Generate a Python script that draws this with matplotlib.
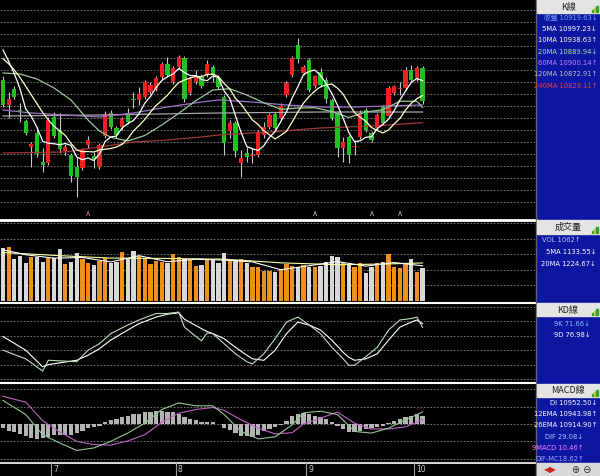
import matplotlib
matplotlib.use('Agg')
import matplotlib.pyplot as plt
from matplotlib import font_manager
from matplotlib.patches import Rectangle

# daily candles, 75 trading days (end of June .. start of October)
opens = [11000, 10900, 10964, 10880, 10836, 10732, 10788, 10672, 10668, 10852,
         10796, 10716, 10700, 10652, 10648, 10740, 10696, 10652, 10776, 10868,
         10808, 10812, 10868, 10924, 10920, 10932, 10952, 10964, 11012, 11064,
         10992, 11052, 11088, 10948, 10992, 11012, 11020, 11052, 11008, 10932,
         10796, 10828, 10668, 10708, 10696, 10700, 10780, 10812, 10864, 10848,
         10940, 11020, 11140, 11028, 11080, 10976, 11032, 11000, 10920, 10868,
         10728, 10772, 10732, 10772, 10880, 10788, 10808, 10892, 10856, 10948,
         10964, 10968, 11040, 11004, 11048]
highs = [11016, 10952, 10976, 10908, 10844, 10752, 10808, 10728, 10852, 10872,
         10868, 10744, 10708, 10692, 10728, 10776, 10712, 10748, 10876, 10880,
         10816, 10852, 10888, 10952, 10972, 11000, 10992, 11016, 11072, 11092,
         11056, 11100, 11096, 11012, 11040, 11024, 11080, 11060, 11020, 10940,
         10840, 10836, 10720, 10732, 10728, 10800, 10832, 10868, 10872, 10908,
         10996, 11096, 11168, 11060, 11088, 11020, 11048, 11012, 10928, 10876,
         10772, 10780, 10760, 10880, 10888, 10796, 10868, 10900, 10976, 10980,
         10992, 11052, 11060, 11056, 11056]
lows = [10892, 10848, 10924, 10832, 10780, 10652, 10692, 10632, 10660, 10768,
        10708, 10700, 10592, 10532, 10640, 10728, 10648, 10644, 10768, 10804,
        10768, 10800, 10824, 10888, 10900, 10924, 10944, 10956, 11004, 11012,
        10984, 11044, 10912, 10940, 10984, 10968, 11012, 10992, 10964, 10700,
        10768, 10692, 10612, 10672, 10668, 10692, 10768, 10804, 10800, 10836,
        10932, 11012, 11068, 11020, 10952, 10968, 10972, 10908, 10840, 10692,
        10672, 10668, 10700, 10764, 10792, 10752, 10800, 10820, 10848, 10940,
        10940, 10960, 10992, 10996, 10904]
closes = [10900, 10924, 10932, 10876, 10788, 10744, 10704, 10660, 10840, 10776,
          10724, 10732, 10616, 10612, 10720, 10760, 10684, 10740, 10864, 10812,
          10780, 10844, 10832, 10920, 10944, 10992, 10980, 11008, 11064, 11020,
          11048, 11092, 10924, 11004, 11016, 10976, 11064, 11020, 10972, 10748,
          10828, 10716, 10688, 10692, 10700, 10792, 10812, 10860, 10808, 10896,
          10988, 11088, 11084, 11052, 10960, 11016, 10980, 10924, 10848, 10728,
          10752, 10700, 10736, 10868, 10800, 10760, 10860, 10828, 10968, 10976,
          10968, 11040, 11000, 11048, 10916]

ma5 = [11120, 11075, 11025, 10965, 10885, 10854, 10810, 10755, 10747, 10745,
       10741, 10746, 10738, 10692, 10681, 10688, 10678, 10703, 10754, 10772,
       10776, 10808, 10826, 10838, 10865, 10907, 10934, 10970, 10998, 11013,
       11024, 11046, 11030, 11018, 11017, 11002, 10997, 11016, 11010, 10956,
       10926, 10857, 10790, 10734, 10725, 10718, 10737, 10771, 10794, 10834,
       10873, 10928, 10973, 11022, 11034, 11040, 11018, 10986, 10946, 10899,
       10846, 10790, 10753, 10757, 10771, 10773, 10805, 10823, 10843, 10878,
       10920, 10956, 10990, 11006, 10997]
ma10 = [11085, 11065, 11040, 11010, 10975, 10940, 10905, 10870, 10840, 10815,
        10797, 10778, 10746, 10720, 10713, 10714, 10712, 10720, 10723, 10726,
        10732, 10743, 10765, 10796, 10818, 10842, 10871, 10898, 10918, 10939,
        10966, 10990, 11000, 11008, 11015, 11013, 11022, 11023, 11014, 10986,
        10964, 10927, 10903, 10872, 10840, 10822, 10797, 10781, 10764, 10779,
        10795, 10832, 10872, 10908, 10934, 10956, 10973, 10980, 10984, 10967,
        10943, 10904, 10870, 10851, 10835, 10810, 10798, 10788, 10800, 10825,
        10846, 10880, 10907, 10925, 10938]
ma20_idx = [0, 3, 6, 9, 12, 15, 17, 19, 22, 25, 28, 31, 34, 37, 40, 43, 46, 49,
            52, 55, 58, 61, 64, 67, 70, 73, 74]
ma20 = [11028, 11024, 11004, 10968, 10920, 10840, 10796, 10771, 10756, 10778,
        10820, 10867, 10917, 10960, 10965, 10940, 10909, 10883, 10888, 10889,
        10874, 10850, 10872, 10881, 10915, 10915, 10890]
ma60_idx = [0, 5, 11, 17, 23, 29, 35, 38, 44, 50, 56, 62, 68, 74]
ma60 = [10880, 10868, 10860, 10852, 10868, 10892, 10912, 10920, 10912, 10900,
        10892, 10892, 10896, 10900]
ma120_idx = [0, 17, 38, 56, 74]
ma120 = [10856, 10860, 10868, 10872, 10872]
ma240_idx = [0, 11, 17, 23, 29, 35, 38, 47, 56, 65, 74]
ma240 = [10708, 10712, 10732, 10752, 10760, 10772, 10780, 10792, 10808, 10816,
         10829]

volume = [1700, 1750, 1340, 1450, 1210, 1430, 1430, 1270, 1370, 1400,
          1670, 1190, 1270, 1540, 1340, 1230, 1160, 1290, 1400, 1210,
          1270, 1590, 1370, 1610, 1460, 1370, 1190, 1300, 1250, 1210,
          1510, 1410, 1340, 1320, 1140, 1160, 1340, 1340, 1210, 1540,
          1320, 1320, 1340, 1210, 1110, 1110, 970, 970, 950, 1030,
          1190, 1140, 1110, 1160, 1080, 1110, 1130, 1250, 1450, 1410,
          1230, 1180, 1110, 1210, 890, 1110, 1210, 1270, 1500, 1110,
          1050, 1180, 1340, 920, 1062]
vma5_idx = [0, 4, 9, 14, 19, 24, 29, 34, 39, 44, 49, 54, 59, 64, 69, 74]
vma5 = [1650, 1490, 1380, 1402, 1258, 1460, 1264, 1344, 1318, 1260, 1006, 1136,
        1270, 1124, 1240, 1134]
vma20_idx = [0, 10, 19, 29, 39, 49, 59, 67, 74]
vma20 = [1560, 1460, 1382, 1370, 1347, 1230, 1168, 1190, 1225]

kd_idx = [0, 4, 7, 8, 13, 15, 17, 19, 22, 24, 27, 29, 31, 32, 35, 36, 37, 39,
          41, 43, 44, 46, 48, 50, 52, 54, 56, 58, 60, 61, 62, 64, 66, 68, 70,
          72, 73, 74]
k_vals = [40, 28, 11, 26, 24, 40, 49, 63, 75, 82, 91, 91, 93, 72, 53, 64, 63,
          49, 35, 24, 21, 35, 56, 79, 86, 75, 63, 44, 28, 19, 19, 31, 44, 68,
          82, 84, 86, 71.66]
d_vals = [59, 40, 17, 20, 26, 33, 42, 54, 68, 77, 86, 90, 92, 83, 70, 66, 63,
          56, 44, 33, 28, 26, 40, 63, 79, 75, 68, 54, 37, 30, 26, 28, 35, 54,
          72, 79, 82, 76.98]

osc = [-10, -18, -20, -24, -30, -34, -36, -34, -31, -26, -27, -26, -27, -22,
       -18, -10, -8, -4, 4, 9, 12, 16, 19, 23, 25, 28, 29, 31, 31, 29, 28, 25,
       17, 13, 9, 6, 6, 4, 1, -10, -14, -22, -28, -30, -31, -26, -18, -12, -7,
       -2, 8, 19, 25, 27, 23, 20, 17, 12, 4, -6, -12, -19, -20, -16, -11, -10,
       -7, -4, 2, 8, 12, 17, 20, 24, 18.62]
macd_idx = [0, 4, 7, 10, 13, 16, 19, 22, 25, 28, 31, 34, 37, 39, 42, 45, 48,
            51, 53, 56, 59, 62, 65, 68, 71, 74]
dif = [57, 23, -26, -46, -64, -58, -42, -22, 2, 35, 51, 44, 44, 23, -18, -36,
       -31, -2, 27, 31, 23, -18, -22, -10, 10, 29.08]
macd9 = [67, 53, 8, -19, -42, -50, -51, -41, -26, 4, 26, 35, 40, 33, 10, -10,
         -24, -21, 0, 14, 29, 2, -12, -12, -7, 10.46]

months = ['7', '8', '9', '10']
month_start = [9, 31, 54, 73]
marks_idx = [15, 55, 65, 70]
marks_col = ['#d08080', '#c0c0c0', '#c0c0c0', '#c0c0c0']

W, H = 600, 476
N = len(closes)
xs = list(range(N))
GRID = dict(color='#8a8a8a', lw=0.6, ls=(0, (2, 2)))
installed = {f.name for f in font_manager.fontManager.ttflist}
narrow = 'Liberation Sans Narrow' if 'Liberation Sans Narrow' in installed else 'DejaVu Sans'
LBL = [narrow, 'DejaVu Sans', 'Noto Sans CJK TC']
FS = 5.8 if narrow != 'DejaVu Sans' else 4.9
CJK = ['Noto Sans CJK TC', 'DejaVu Sans']

fig = plt.figure(figsize=(6.0, 4.76), dpi=100, facecolor='black')


def px_axes(x0, y0, x1, y1, ylim):
    ax = fig.add_axes([x0 / W, 1 - y1 / H, (x1 - x0) / W, (y1 - y0) / H])
    ax.set_facecolor('black')
    for s in ax.spines.values():
        s.set_visible(False)
    ax.set_xticks([])
    ax.set_yticks([])
    ax.set_xlim(-0.53, 93.83)
    ax.set_ylim(*ylim)
    return ax


# price panel
ax = px_axes(0, 0, 535, 218, (10448, 11320))
for g in range(10512, 11300, 48):
    ax.axhline(g, **GRID)
for i in xs:
    up = closes[i] >= opens[i]
    col = '#f02020' if up else '#20c020'
    ax.vlines(i, lows[i], highs[i], color='#c8c8c8', lw=0.8, zorder=2)
    lo = min(opens[i], closes[i])
    ht = max(abs(closes[i] - opens[i]), 3)
    ax.bar(i, ht, bottom=lo, width=0.75, color=col, lw=0, zorder=3)
ax.plot(ma240_idx, ma240, color='#a03838', lw=0.9, zorder=4)
ax.plot(ma120_idx, ma120, color='#a8a8a8', lw=0.9, zorder=4)
ax.plot(ma60_idx, ma60, color='#a070c8', lw=0.9, zorder=4)
ax.plot(ma20_idx, ma20, color='#98c898', lw=0.9, zorder=4)
ax.plot(xs, ma10, color='#ffffc8', lw=0.9, zorder=4)
ax.plot(xs, ma5, color='#ffffff', lw=0.9, zorder=4)
for i, c in zip(marks_idx, marks_col):
    ax.text(i, 10466, '\u2227', color=c, fontsize=6, ha='center', va='center')

# volume panel
av = px_axes(0, 222, 535, 302, (-32, 2544))
for g in range(500, 2600, 500):
    av.axhline(g, **GRID)
vcol = ['#f0901c' if closes[i] >= opens[i] else '#d8d8d8' for i in xs]
av.bar(xs, volume, width=0.75, color=vcol, lw=0, zorder=3)
av.plot(vma20_idx, vma20, color='#ffffa0', lw=0.8, zorder=4)
av.plot(vma5_idx, vma5, color='#ffffff', lw=0.8, zorder=4)

# KD panel
ak = px_axes(0, 304, 535, 381, (-2.8, 104.2))
for g in range(0, 101, 20):
    ak.axhline(g, **GRID)
ak.plot(kd_idx, d_vals, color='#ffffff', lw=0.8)
ak.plot(kd_idx, k_vals, color='#b8e0b8', lw=0.8)

# MACD panel
am = px_axes(0, 384, 535, 462, (-92, 96.8))
for g in (-84, -42, 0, 42, 84):
    am.axhline(g, **GRID)
am.bar(xs, osc, width=0.75, color='#b4b4b4', lw=0, zorder=3)
am.plot(macd_idx, macd9, color='#c060c0', lw=0.8, zorder=4)
am.plot(macd_idx, dif, color='#90c890', lw=0.8, zorder=4)

# overlay in pixel coords: separators, dates, info panel
ov = fig.add_axes([0, 0, 1, 1])
ov.set_xlim(0, W)
ov.set_ylim(H, 0)
ov.axis('off')
ov.patch.set_alpha(0)
for y, lw in ((220, 2.0), (303, 1.5), (382.5, 1.5), (462.5, 1.2)):
    ov.plot([0, 536], [y, y], color='white', lw=lw)
for m, i in zip(months, month_start):
    x = 3 + 5.67 * (i - 0.5)
    ov.plot([x, x], [463, 476], color='#a0a0a0', lw=0.8)
    ov.text(x + 2, 470, m, color='#d0d0d0', fontsize=5.5, va='center',
            family=LBL)

ov.add_patch(Rectangle((536, 0), 64, 476, color='#0c16a0', zorder=1))
ov.plot([536, 536], [0, 476], color='#606060', lw=1.0, zorder=2)
heads = [(0, 13, 'K線'), (220, 234, '成交量'), (303, 316, 'KD線'),
         (383.5, 397, 'MACD線')]
for y0, y1, t in heads:
    ov.add_patch(Rectangle((537, y0), 63, y1 - y0, color='#e4e4e4', zorder=2))
    ov.text(568, (y0 + y1) / 2 + 0.5, t, fontsize=6.5, color='#202020',
            ha='center', va='center', family=CJK, zorder=3)
    for k, c in enumerate(('#30a030', '#e0c020', '#30a030')):
        ov.add_patch(Rectangle((592 + 2 * k, y1 - 3 - 2 * k), 1.6, 2 + 2 * k,
                               color=c, zorder=3))
ov.add_patch(Rectangle((537, 463), 63, 13, color='#d8d8d8', zorder=2))
ov.text(550, 470, '\u25c0\u25b6', color='#d02020', fontsize=6, ha='center',
        va='center', zorder=3)
ov.text(582, 470, '\u2295 \u2296', color='#303030', fontsize=7, ha='center',
        va='center', zorder=3)

k_lines = [('收盤 10919.63↓', '#70a8ff'), ('5MA 10997.23↓', '#ffffff'),
           ('10MA 10938.63↑', '#ffffc8'), ('20MA 10889.94↓', '#a8e0a8'),
           ('60MA 10900.14↑', '#c080ff'), ('120MA 10872.91↑', '#c0c0c0'),
           ('240MA 10829.11↑', '#ff3838')]
for n, (t, c) in enumerate(k_lines):
    ov.text(597, 17.5 + 11.4 * n, t, color=c, fontsize=FS, ha='right',
            va='center', family=LBL, zorder=3)
v_lines = [('VOL 1062↑', '#b8c8ff', 580), ('5MA 1133.55↓', '#ffffff', 596),
           ('20MA 1224.67↓', '#ffffff', 596)]
for n, (t, c, x) in enumerate(v_lines):
    ov.text(x, 240.5 + 11.6 * n, t, color=c, fontsize=FS, ha='right',
            va='center', family=LBL, zorder=3)
kd_lines = [('9K 71.66↓', '#90c0ff'), ('9D 76.98↓', '#ffffff')]
for n, (t, c) in enumerate(kd_lines):
    ov.text(590, 323.5 + 11 * n, t, color=c, fontsize=FS, ha='right',
            va='center', family=LBL, zorder=3)
m_lines = [('DI 10952.50↓', '#ffffff', 597), ('12EMA 10943.98↑', '#ffffff', 597),
           ('26EMA 10914.90↑', '#ffffff', 597), ('DIF 29.08↓', '#a8c8ff', 583),
           ('9MACD 10.46↑', '#ff80ff', 584), ('DIF-MC18.62↑', '#a0a0ff', 584)]
for n, (t, c, x) in enumerate(m_lines):
    ov.text(x, 403 + 11.2 * n, t, color=c, fontsize=FS, ha='right',
            va='center', family=LBL, zorder=3)

fig.savefig('out.png', dpi=100, facecolor='black')
